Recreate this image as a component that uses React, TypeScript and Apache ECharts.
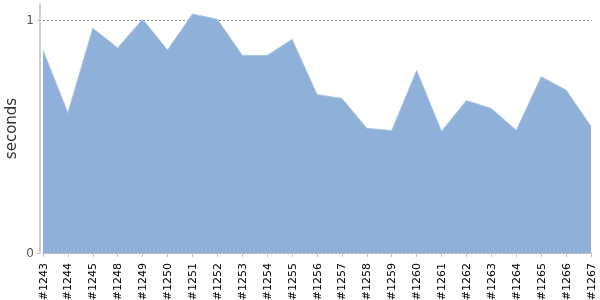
import React, { useEffect, useRef } from "react";
import * as echarts from "echarts";

const builds = [
  "#1243", "#1244", "#1245", "#1248", "#1249", "#1250", "#1251", "#1252",
  "#1253", "#1254", "#1255", "#1256", "#1257", "#1258", "#1259", "#1260",
  "#1261", "#1262", "#1263", "#1264", "#1265", "#1266", "#1267",
];
const seconds = [
  0.871, 0.602, 0.966, 0.881, 1.004, 0.872, 1.027, 1.004,
  0.849, 0.849, 0.918, 0.681, 0.664, 0.536, 0.526, 0.784,
  0.523, 0.655, 0.621, 0.527, 0.757, 0.7, 0.544,
];
const yAxisName = "seconds";

export default function App() {
  const ref = useRef<HTMLDivElement>(null);
  useEffect(() => {
    if (!ref.current) return;
    const chart = echarts.init(ref.current, undefined, { renderer: "svg" });
    chart.setOption({
      animation: false,
      grid: {
        left: 43,
        right: 9,
        top: 4,
        bottom: 47,
        containLabel: false,
        outerBoundsMode: "none",
      },
      xAxis: {
        type: "category",
        data: builds,
        boundaryGap: false,
        offset: 4,
        axisLine: { lineStyle: { color: "#c0c0c0", width: 1.5 } },
        axisTick: { alignWithLabel: true, length: 4, lineStyle: { color: "#c0c0c0" } },
        axisLabel: {
          rotate: 90,
          interval: 0,
          color: "#000",
          fontSize: 11,
          fontFamily: "DejaVu Sans",
          margin: 6,
        },
        splitLine: { show: false },
      },
      yAxis: {
        type: "value",
        min: 0,
        max: 1.07,
        interval: 1,
        offset: 3,
        name: yAxisName,
        nameLocation: "middle",
        nameRotate: 90,
        nameGap: 22,
        nameMoveOverlap: false,
        nameTextStyle: { color: "#333", fontSize: 15, fontFamily: "DejaVu Sans" },
        axisLine: { show: true, lineStyle: { color: "#c0c0c0", width: 1.5 } },
        axisTick: { show: true, length: 3, lineStyle: { color: "#c0c0c0" } },
        axisLabel: {
          color: "#545454",
          fontSize: 12,
          fontFamily: "DejaVu Sans",
          margin: 6,
          showMaxLabel: false,
        },
        splitLine: {
          show: true,
          showMaxLine: false,
          lineStyle: { color: "#888", type: [2, 2], width: 1 },
        },
      },
      series: [
        {
          type: "line",
          data: seconds,
          symbol: "none",
          lineStyle: { color: "#a9c4e4", width: 1 },
          areaStyle: { color: "#8eb0d9", opacity: 1 },
          itemStyle: { color: "#8eb0d9" },
        },
      ],
    });
    return () => chart.dispose();
  }, []);
  return (
    <div
      ref={ref}
      style={{ position: "fixed", left: 0, top: 0, width: 600, height: 300 }}
    />
  );
}
